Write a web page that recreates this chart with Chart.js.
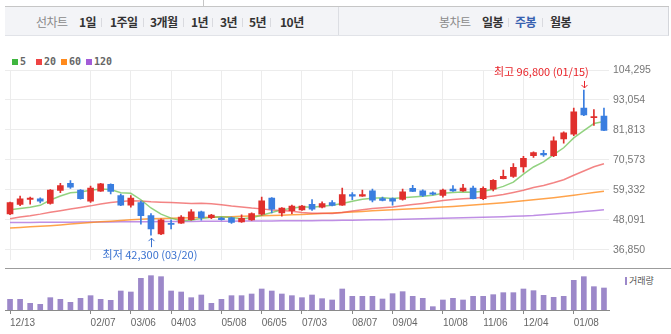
<!DOCTYPE html>
<html lang="ko">
<head>
<meta charset="utf-8">
<script src="https://cdn.jsdelivr.net/npm/chart.js@4.4.1/dist/chart.umd.min.js"></script>
<style>
  body { margin: 0; width: 671px; height: 334px; background: #fff; position: relative; overflow: hidden;
         font-family: "Noto Sans CJK KR", sans-serif; }
  .abs { position: absolute; }
  #topline { left: 5px; top: 6px; width: 664px; height: 1px; background: #c6c6c6; }
  #topbox { left: 203px; top: 0; width: 1px; height: 6px; background: #c6c6c6; }
  #bar { left: 5px; top: 7px; width: 663px; height: 28px; background: #f3f4f7;
         border-right: 1px solid #d4d6db; border-bottom: 1px solid #e1e3e8; }
  #groupsep { left: 338px; top: 7px; width: 1px; height: 28px; background: #dcdee3; }
  .tb { position: absolute; top: 15px; line-height: 14px; font-size: 12px; font-weight: bold; color: #333;
        letter-spacing: -0.5px; white-space: nowrap; }
  .tb.title { font-weight: normal; color: #8a8a8a; }
  .tb.on { color: #3761b0; }
  .sep { position: absolute; top: 18px; width: 1px; height: 9px; background: #d9dadf; }
  #legend { left: 0; top: 56px; height: 12px; }
  .lg { position: absolute; top: 0; font: bold 10px "DejaVu Sans Mono", monospace; color: #666; line-height: 12px; }
  .sq { position: absolute; top: 3px; width: 6px; height: 6px; }
  #volLegend { left: 625px; top: 275px; font-size: 9px; color: #555; line-height: 12px; white-space: nowrap; }
  #volLegend i { display: inline-block; width: 2px; height: 8px; background: #9c88c9; margin-right: 2px; vertical-align: -1px; }
  #sepline { left: 5px; top: 268px; width: 666px; height: 1px; background: #9c9c9c; }
  canvas { position: absolute; left: 0; }
</style>
</head>
<body>
<div class="abs" id="topline"></div>
<div class="abs" id="topbox"></div>
<div class="abs" id="bar"></div>
<div class="abs" id="groupsep"></div>

<span class="tb title" style="left:36px">선차트</span>
<span class="tb" style="left:79px">1일</span>
<span class="sep" style="left:101px"></span>
<span class="tb" style="left:110px">1주일</span>
<span class="sep" style="left:143px"></span>
<span class="tb" style="left:150px">3개월</span>
<span class="sep" style="left:183px"></span>
<span class="tb" style="left:191px">1년</span>
<span class="sep" style="left:212px"></span>
<span class="tb" style="left:220px">3년</span>
<span class="sep" style="left:242px"></span>
<span class="tb" style="left:249px">5년</span>
<span class="sep" style="left:270px"></span>
<span class="tb" style="left:280px">10년</span>

<span class="tb title" style="left:439px">봉차트</span>
<span class="tb" style="left:482px">일봉</span>
<span class="sep" style="left:508px"></span>
<span class="tb on" style="left:515px">주봉</span>
<span class="sep" style="left:542px"></span>
<span class="tb" style="left:550px">월봉</span>

<div class="abs" id="legend"></div>
<div class="abs" id="volLegend"><i></i>거래량</div>

<canvas id="price" width="671" height="270" style="top:0"></canvas>
<div class="abs" id="sepline"></div>
<canvas id="volume" width="671" height="65" style="top:269px"></canvas>

<script>
// weekly candles, 2023-12 .. 2025-01
const weeks = ['12/13','12/20','12/27','01/03','01/10','01/17','01/24','01/31','02/07','02/14',
  '02/21','02/28','03/06','03/13','03/20','03/27','04/03','04/10','04/17','04/24',
  '05/01','05/08','05/15','05/22','05/29','06/05','06/12','06/19','06/26','07/03',
  '07/10','07/17','07/24','07/31','08/07','08/14','08/21','08/28','09/04','09/11',
  '09/18','09/25','10/02','10/08','10/16','10/23','10/30','11/06','11/13','11/20',
  '11/27','12/04','12/11','12/18','12/24','12/31','01/08','01/15','01/22','01/29'];
const shownTicks = ['12/13','02/07','03/06','04/03','05/08','06/05','07/03','08/07','09/04','10/08','11/06','12/04','01/08'];

const opens = [50300,53850,55750,55900,54200,59100,61750,59200,55050,58850,
  61350,57200,53600,54550,49650,42800,46700,46800,48150,51100,
  48850,48750,48850,47300,48050,50150,56250,50650,51450,51800,
  53850,52800,54550,53600,57550,56950,58950,56000,56000,55750,
  59850,58950,58150,57200,59600,58950,59950,56000,59600,63500,
  64350,67900,72100,73050,72100,78450,80200,90000,86400,87000];
const highs = [54700,56950,56600,56350,59450,61750,62800,59400,60750,61800,
  61600,57700,57200,55050,50400,48400,48050,49650,51950,51350,
  50150,49000,49100,49900,50650,56600,56450,52700,53600,53500,
  55650,54800,55300,59950,58250,59200,59600,56600,56350,59600,
  61000,59350,58600,59600,60900,61350,60750,60400,63150,66750,
  69150,71850,73550,74150,79250,81050,90000,96800,89400,90000];
const lows = [50000,53400,53950,54450,53950,58250,59850,55800,54550,58700,
  57800,53400,52800,46450,42300,42500,44650,46700,47900,47900,
  48500,47900,46700,47050,47800,49800,50650,49450,50400,51600,
  51600,52550,53250,53500,55650,56800,54800,55200,53600,55400,
  58600,56800,57450,56600,58750,58750,55900,55650,58950,63400,
  63950,65900,71500,71850,71750,76850,79600,87200,83450,81500];
const closes = [54500,55900,56250,55050,59200,60900,60300,56000,59950,61600,
  58750,53600,56250,49650,44650,48050,46350,49100,51100,48850,
  49800,48150,47050,48600,50400,55200,52050,52450,53250,53250,
  52050,54200,53500,57550,56950,57550,55400,55300,55050,58600,
  58750,57200,57700,59200,58950,59950,56000,59850,62900,64350,
  67800,71150,73300,72450,77700,80700,88550,87400,86650,81650];
// thousand shares
const volumes = [320,320,200,170,370,320,230,350,430,320,
  290,570,540,950,1030,1000,570,540,370,450,
  200,320,430,430,480,630,570,480,430,370,
  450,340,300,630,410,410,410,330,490,550,
  410,350,100,300,350,300,410,410,460,520,
  520,630,580,440,380,410,890,1000,700,660];

const ma5 = [51800,52300,52800,53500,55500,57000,58200,58500,59200,59600,
  59400,58200,58000,55600,52500,50200,48700,47700,47900,48600,
  49000,49200,48900,48500,48800,49800,50800,51800,52400,53000,
  52800,53200,53500,54200,55000,55800,56200,56300,56100,56300,
  56600,56900,57300,58000,58300,58500,58400,58800,59500,60600,
  62200,65200,67900,69800,72500,75100,78800,81500,84200,85000];
const ma20 = [48500,49100,49600,50200,50900,51500,52100,52700,53300,54000,
  54600,54900,55200,55100,54850,54700,54550,54350,54150,54250,
  54070,53680,53220,52900,52460,52170,51760,51580,51250,50830,
  50500,50530,50390,50780,51400,51870,52330,52630,52830,53320,
  53770,54220,54750,55280,55710,55950,56150,56520,57000,57550,
  58340,59190,60170,60920,61960,63120,64770,66380,67960,69110];
const ma60 = [45000,45200,45450,45650,45880,46150,46450,46750,47050,47320,
  47570,47820,48050,48280,48500,48600,48690,48780,48870,48960,
  49060,49160,49260,49360,49460,49570,49680,49800,49920,50050,
  50230,50420,50610,50800,51000,51210,51420,51640,51850,52070,
  52260,52450,52650,52850,53040,53300,53580,53860,54150,54450,
  54820,55200,55580,55970,56360,56830,57300,57800,58280,58760];
const ma120 = [47060,47080,47100,47120,47140,47160,47180,47200,47230,47260,
  47290,47310,47330,47350,47370,47390,47410,47440,47470,47500,
  47530,47550,47570,47590,47610,47630,47650,47670,47690,47720,
  47750,47790,47830,47880,47930,47990,48050,48120,48190,48260,
  48350,48440,48530,48630,48740,48850,48950,49050,49140,49230,
  49380,49540,49700,49980,50280,50560,50850,51150,51450,51820];

const maPeriods = [5, 20, 60, 120];
const maSeries = [ma5, ma20, ma60, ma120];
const maLineColors = ['rgba(110,195,85,0.75)', 'rgba(238,80,80,0.7)', 'rgba(255,140,30,0.8)', 'rgba(170,105,220,0.75)'];
const maKeyColors = ['#3fb63f', '#ee4444', '#ff8a1c', '#a35cd8'];
const yTicks = [36850, 48091, 59332, 70573, 81813, 93054, 104295];

const UP = '#e0302d';
const DOWN = '#3a7ee0';
const candleColor = c => closes[c.dataIndex] >= opens[c.dataIndex] ? UP : DOWN;
const isShown = i => shownTicks.includes(weeks[i]) && weeks.indexOf(weeks[i]) === i;

// moving average key
const legend = document.getElementById('legend');
const keyX = [12, 36, 61, 86];
maPeriods.forEach((p, i) => {
  legend.insertAdjacentHTML('beforeend',
    '<span class="sq" style="left:' + keyX[i] + 'px;background:' + maKeyColors[i] + '"></span>' +
    '<span class="lg" style="left:' + (keyX[i] + 8) + 'px">' + p + '</span>');
});

function arrow(ctx, x, from, to) {
  const dir = Math.sign(to - from);
  x = Math.round(x) + 0.5;
  ctx.beginPath();
  ctx.moveTo(x, from);
  ctx.lineTo(x, to);
  ctx.moveTo(x - 3, to - 3 * dir);
  ctx.lineTo(x, to);
  ctx.lineTo(x + 3, to - 3 * dir);
  ctx.stroke();
}

const hiLo = {
  id: 'hiLo',
  afterDatasetsDraw(chart) {
    const {ctx, scales: {x, y}} = chart;
    const hi = highs.indexOf(Math.max(...highs));
    const lo = lows.indexOf(Math.min(...lows));
    ctx.save();
    ctx.font = '11px "Noto Sans CJK KR", sans-serif';
    ctx.textBaseline = 'middle';
    ctx.lineWidth = 1;

    let px = x.getPixelForValue(hi), py = y.getPixelForValue(highs[hi]);
    ctx.fillStyle = ctx.strokeStyle = '#e8242a';
    ctx.textAlign = 'right';
    ctx.fillText('최고 ' + highs[hi].toLocaleString('en-US') + ' (' + weeks[hi] + ')', px + 5, py - 18);
    arrow(ctx, px, py - 9, py - 2);

    px = x.getPixelForValue(lo);
    py = y.getPixelForValue(lows[lo]);
    ctx.fillStyle = ctx.strokeStyle = '#3a72d0';
    ctx.textAlign = 'center';
    ctx.fillText('최저 ' + lows[lo].toLocaleString('en-US') + ' (' + weeks[lo] + ')', px - 1, py + 20);
    arrow(ctx, px, py + 12, py + 3);
    ctx.restore();
  }
};

const maDatasets = maPeriods.map((p, i) => ({
  type: 'line',
  label: String(p),
  data: maSeries[i],
  borderColor: maLineColors[i],
  borderWidth: 1.5,
  pointRadius: 0,
  tension: 0,
  order: 1
}));

new Chart(document.getElementById('price'), {
  type: 'bar',
  data: {
    labels: weeks,
    datasets: [
      {
        label: 'wick',
        data: lows.map((l, i) => [l, highs[i]]),
        backgroundColor: candleColor,
        barThickness: 1,
        grouped: false,
        order: 0
      },
      {
        label: 'body',
        data: opens.map((o, i) => [o, closes[i]]),
        backgroundColor: candleColor,
        barThickness: 6,
        minBarLength: 1,
        grouped: false,
        order: 0
      },
      ...maDatasets
    ]
  },
  options: {
    responsive: false,
    animation: false,
    devicePixelRatio: 1,
    layout: { padding: { left: 5, top: 70, right: 0, bottom: 1 } },
    plugins: { legend: { display: false }, tooltip: { enabled: false } },
    scales: {
      x: {
        offset: true,
        grid: {
          offset: false,
          drawTicks: false,
          color: c => isShown(c.index) ? '#ececec' : 'rgba(0,0,0,0)'
        },
        border: { display: false },
        ticks: { display: false, autoSkip: false }
      },
      y: {
        position: 'right',
        min: 33093,
        max: 104295,
        afterBuildTicks: s => { s.ticks = yTicks.map(v => ({ value: v })); },
        afterFit: s => { s.width = 62; },
        grid: { color: '#ececec', drawTicks: false },
        border: { display: false },
        ticks: {
          padding: 4,
          color: '#777',
          font: { family: 'Liberation Sans', size: 10.5 },
          callback: v => v.toLocaleString('en-US')
        }
      }
    }
  },
  plugins: [hiLo]
});

new Chart(document.getElementById('volume'), {
  type: 'bar',
  data: {
    labels: weeks,
    datasets: [{
      label: '거래량',
      data: volumes,
      backgroundColor: '#9c88c9',
      barThickness: 5
    }]
  },
  options: {
    responsive: false,
    animation: false,
    devicePixelRatio: 1,
    layout: { padding: { left: 5, top: 0, right: 0, bottom: 0 } },
    plugins: { legend: { display: false }, tooltip: { enabled: false } },
    scales: {
      x: {
        offset: true,
        afterFit: s => { s.height = 24; },
        grid: {
          offset: false,
          drawOnChartArea: false,
          tickLength: 4,
          tickColor: c => isShown(c.index) ? '#888' : 'rgba(0,0,0,0)'
        },
        border: { color: '#8a8a8a' },
        ticks: {
          autoSkip: false,
          maxRotation: 0,
          minRotation: 0,
          align: 'start',
          padding: 3,
          color: '#666',
          font: { family: 'Liberation Sans', size: 10 },
          callback: (v, i) => isShown(i) ? weeks[i] : ''
        }
      },
      y: {
        position: 'right',
        min: 0,
        max: 1230,
        afterFit: s => { s.width = 62; },
        grid: { display: false },
        border: { display: false },
        ticks: { display: false }
      }
    }
  }
});
</script>
</body>
</html>
